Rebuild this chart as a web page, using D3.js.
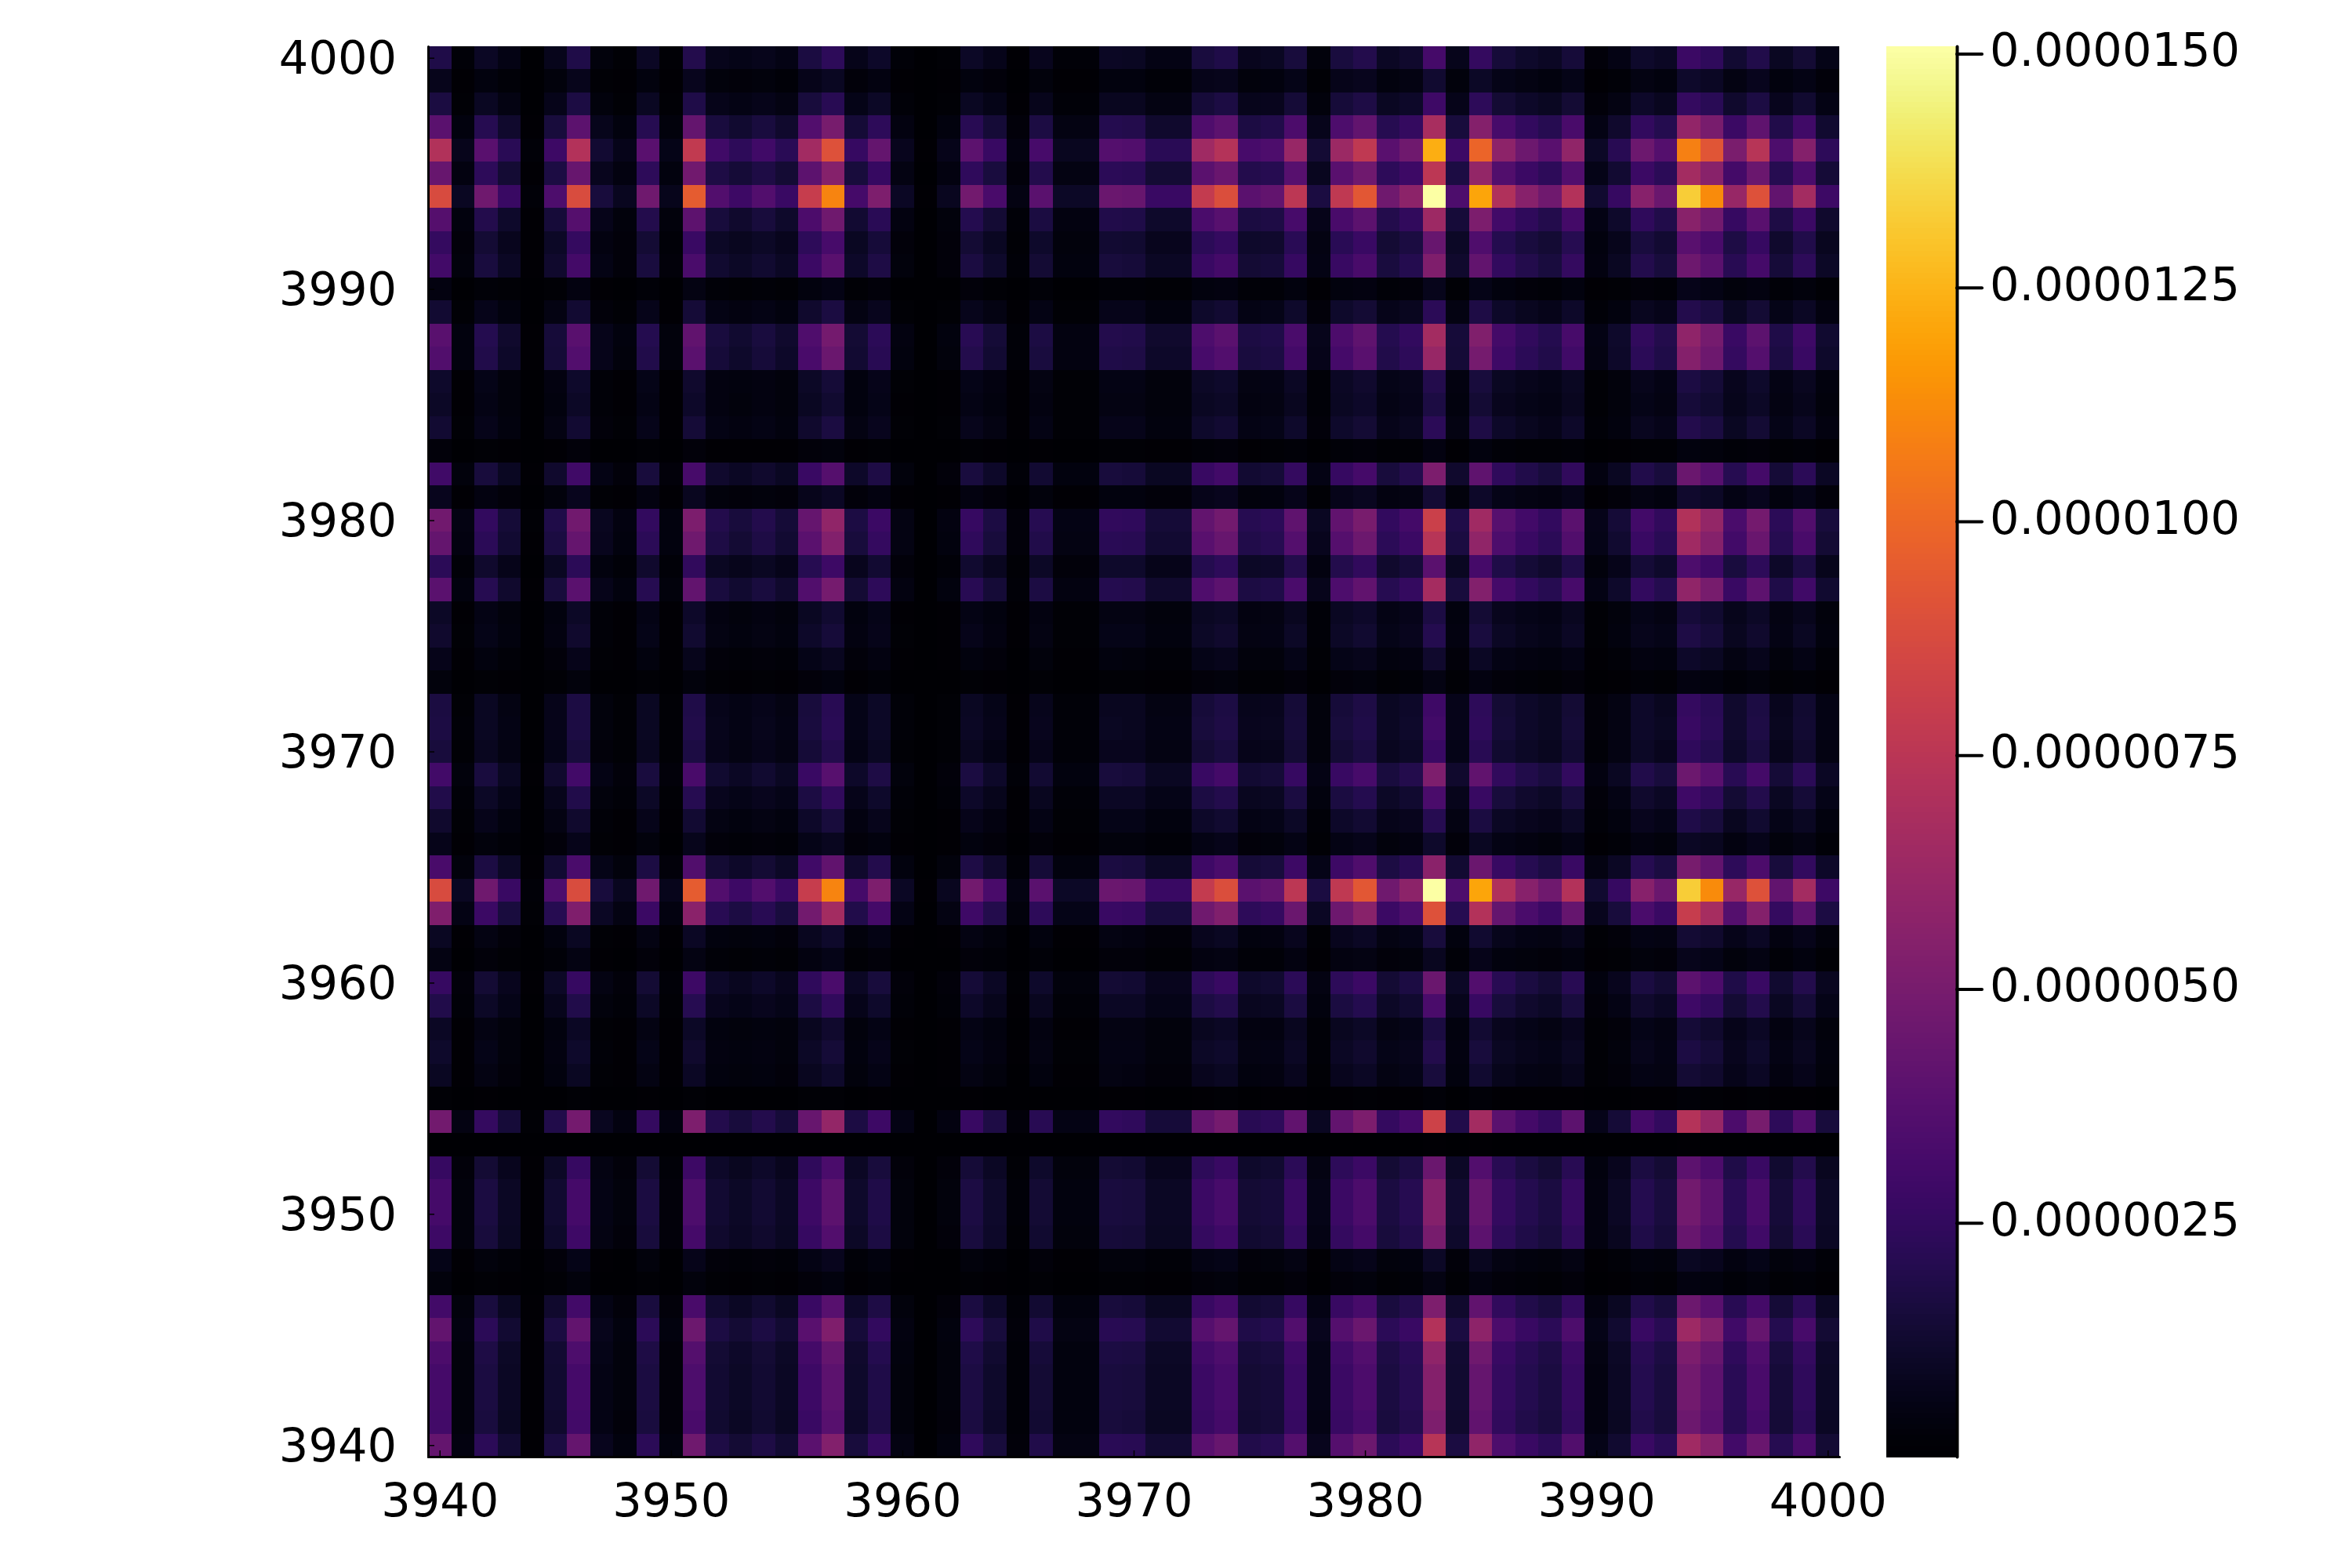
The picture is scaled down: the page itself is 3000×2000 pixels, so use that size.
<!DOCTYPE html>
<html>
<head>
<meta charset="utf-8">
<script src="https://cdn.jsdelivr.net/npm/d3@7"></script>
<style>
  body { margin: 0; background: #fff; }
  text { font-family: "DejaVu Sans", sans-serif; font-size: 59px; fill: #000; }
</style>
</head>
<body>
<svg id="chart" width="3000" height="2000"></svg>
<script>
const plot = {left: 546, right: 2346, top: 59, bottom: 1858};
const bar = {left: 2406, right: 2495};

const valueMax = 0.00001508;
const axisTicks = [3940, 3950, 3960, 3970, 3980, 3990, 4000];
const barTicks = [0.0000025, 0.000005, 0.0000075, 0.00001, 0.0000125, 0.000015];

// column strength read along the row 3964, from 3940 to 4000
const columnLevels = [
  .58, .06, .31, .18, .015, .23, .585, .105, .055, .31,
  .05, .63, .24, .19, .24, .18, .53, .73, .21, .345,
  .065, .005, .055, .32, .215, .035, .26, .07, .07, .30,
  .29, .18, .18, .52, .59, .26, .28, .50, .11, .51,
  .62, .31, .38, 1, .23, .80, .47, .37, .31, .48,
  .085, .175, .37, .30, .88, .745, .41, .60, .28, .44,
  .19
];

// row strength read along the column 3983, from 3940 to 4000
const rowLevels = [
  .49, .345, .36, .36, .39, .48, .345, .035, .07, .33,
  .36, .36, .30, .005, .55, .015, .105, .13, .11, .22,
  .30, .055, .105, .60, 1, .375, .075, .14, .22, .345,
  .18, .20, .195, .035, .08, .135, .115, .445, .26, .49,
  .54, .09, .34, .03, .15, .115, .13, .41, .44, .15,
  .05, .35, .29, .425, 1, .50, .82, .45, .195, .085,
  .21
];

const svg = d3.select("#chart");

const x = d3.scaleLinear().domain([3939.5, 4000.5]).range([plot.left, plot.right]);
const y = d3.scaleLinear().domain([3939.5, 4000.5]).range([plot.bottom, plot.top]);
const color = d3.scaleSequential(d3.interpolateInferno).domain([0, valueMax]);
const barY = d3.scaleLinear().domain([0, valueMax]).range([plot.bottom, plot.top]);

const cells = d3.cross(
  rowLevels.map((level, i) => ({at: 3940 + i, level})),
  columnLevels.map((level, i) => ({at: 3940 + i, level}))
);

svg.append("g")
  .attr("shape-rendering", "crispEdges")
  .selectAll("rect")
  .data(cells)
  .join("rect")
  .attr("x", ([, c]) => x(c.at - 0.5))
  .attr("y", ([r]) => y(r.at + 0.5))
  .attr("width", ([, c]) => x(c.at + 0.5) - x(c.at - 0.5))
  .attr("height", ([r]) => y(r.at - 0.5) - y(r.at + 0.5))
  .attr("fill", ([r, c]) => color(r.level * c.level * valueMax));

const xAxis = d3.axisBottom(x)
  .tickValues(axisTicks)
  .tickFormat(d3.format("d"))
  .tickSize(-8)
  .tickSizeOuter(0)
  .tickPadding(34);

const yAxis = d3.axisLeft(y)
  .tickValues(axisTicks)
  .tickFormat(d3.format("d"))
  .tickSize(-8)
  .tickSizeOuter(0)
  .tickPadding(40);

const styleAxis = g => {
  g.selectAll("path").attr("stroke", "#000").attr("stroke-width", 3).attr("stroke-linecap", "round");
  g.selectAll("line").attr("stroke", "#000").attr("stroke-width", 1.5);
  g.selectAll("text").style("font-size", "59px").style("font-family", "DejaVu Sans");
};

svg.append("g")
  .attr("transform", `translate(0,${plot.bottom})`)
  .call(xAxis)
  .call(styleAxis);

svg.append("g")
  .attr("transform", `translate(${plot.left},0)`)
  .call(yAxis)
  .call(styleAxis)
  .call(g => g.selectAll("text").attr("dy", "0.34em"));

// colorbar
const barSteps = d3.range(0, 256);
const stepValue = valueMax / barSteps.length;
svg.append("g")
  .attr("shape-rendering", "crispEdges")
  .selectAll("rect")
  .data(barSteps)
  .join("rect")
  .attr("x", bar.left)
  .attr("width", bar.right - bar.left)
  .attr("y", d => barY((d + 1) * stepValue))
  .attr("height", d => barY(d * stepValue) - barY((d + 1) * stepValue) + 0.5)
  .attr("fill", d => color((d + 0.5) * stepValue));

const barAxis = d3.axisRight(barY)
  .tickValues(barTicks)
  .tickFormat(d => d.toFixed(7))
  .tickSize(32)
  .tickSizeOuter(0)
  .tickPadding(10);

svg.append("g")
  .attr("transform", `translate(${bar.right + 1},0)`)
  .call(barAxis)
  .call(g => {
    g.selectAll("path").attr("stroke", "#000").attr("stroke-width", 4).attr("stroke-linecap", "round").attr("fill", "none");
    g.selectAll("line").attr("stroke", "#000").attr("stroke-width", 4).attr("stroke-linecap", "round");
    g.selectAll("text").style("font-size", "59px").style("font-family", "DejaVu Sans").attr("dy", "0.26em");
  });
</script>
</body>
</html>
